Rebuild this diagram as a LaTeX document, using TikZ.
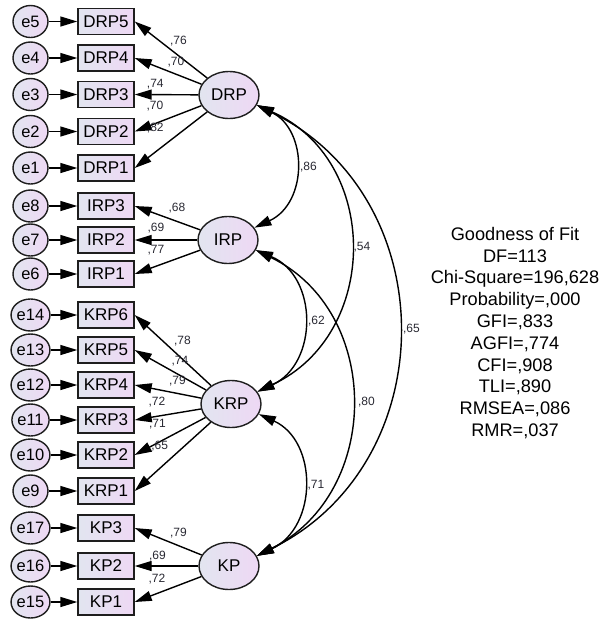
\documentclass[tikz,border=0pt]{standalone}
\usepackage{fontspec}
\setmainfont{Liberation Sans}
\usetikzlibrary{arrows.meta,shapes.geometric}
\definecolor{fillL}{RGB}{226,229,240}
\definecolor{fillR}{RGB}{238,216,244}
\definecolor{edgec}{RGB}{30,30,30}
\definecolor{lblc}{RGB}{40,40,50}
\begin{document}
\begin{tikzpicture}[x=1pt,y=-1pt,
  tip/.style={-{Triangle[length=17pt,width=10pt]}},
  dtip/.style={{Triangle[length=17pt,width=10pt]}-{Triangle[length=17pt,width=10pt]}},
  errc/.style={ellipse, draw=edgec, line width=1.4pt, left color=fillL, right color=fillR,
    minimum width=35pt, minimum height=32pt, inner sep=0pt, font=\fontsize{16.5}{18}\selectfont},
  obs/.style={rectangle, draw=edgec, line width=1.4pt, left color=fillL, right color=fillR,
    minimum width=56pt, minimum height=26pt, inner sep=0pt, font=\fontsize{17}{19}\selectfont},
  lat/.style={ellipse, draw=edgec, line width=1.4pt, left color=fillL, right color=fillR,
    minimum width=60pt, minimum height=47pt, inner sep=0pt, font=\fontsize{17}{19}\selectfont},
  lbl/.style={font=\fontsize{12}{14}\selectfont, inner sep=0pt, text=lblc},
  conn/.style={line width=1.4pt, draw=black},
  gof/.style={align=center, inner sep=0pt, font=\fontsize{18.2}{21.8}\selectfont}
]
\useasboundingbox (0,0) rectangle (601,622);

% latent variables
\node[lat] (DRP) at (229,95) {DRP};
\node[lat] (IRP) at (228,240) {IRP};
\node[lat] (KRP) at (231,404) {KRP};
\node[lat] (KP)  at (229,566) {KP};

% indicators, errors, loadings
\foreach \n/\e/\y/\L in {DRP5/e5/21.5/DRP, DRP4/e4/58/DRP, DRP3/e3/94.5/DRP, DRP2/e2/131.5/DRP, DRP1/e1/168/DRP,
  IRP3/e8/206/IRP, IRP2/e7/240/IRP, IRP1/e6/274/IRP,
  KRP6/e14/315/KRP, KRP5/e13/350/KRP, KRP4/e12/385/KRP, KRP3/e11/420/KRP, KRP2/e10/455/KRP, KRP1/e9/491/KRP,
  KP3/e17/528/KP, KP2/e16/566/KP, KP1/e15/602/KP}{
  \node[errc] (\e) at (30.5,\y) {\e};
  \node[obs] (\n) at (106,\y) {\n};
  \draw[conn,tip] (\e) -- (\n);
  \draw[conn,tip] (\L) -- (\n.east);
}

% loading labels
\node[lbl] (l1) at (178.5,41) {,76};
\node[lbl] (l2) at (176,62.5) {,70};
\node[lbl] (l3) at (155.3,84) {,74};
\node[lbl] (l4) at (155,106) {,70};
\node[lbl] (l5) at (155.3,128) {,82};
\node[lbl] (l6) at (177,208.5) {,68};
\node[lbl] (l7) at (156,228.5) {,69};
\node[lbl] (l8) at (156,250.5) {,77};
\node[lbl] (l9) at (182.5,341) {,78};
\node[lbl] (l10) at (180,361) {,74};
\node[lbl] (l11) at (177.5,381.5) {,79};
\node[lbl] (l12) at (157,402.5) {,72};
\node[lbl] (l13) at (157.5,424) {,71};
\node[lbl] (l14) at (159.7,446) {,65};
\node[lbl] (l15) at (178.5,533) {,79};
\node[lbl] (l16) at (157.5,556) {,69};
\node[lbl] (l17) at (157,579) {,72};

% covariances
\draw[conn,dtip] (DRP.-20) .. controls (308,130) and (308,203) .. (IRP.25);
\draw[conn,dtip] (DRP.-20) .. controls (380.6,160) and (380.6,334) .. (KRP.25);
\draw[conn,dtip] (DRP.-20) .. controls (444.8,197) and (444.8,463) .. (KP.20);
\draw[conn,dtip] (IRP.-20) .. controls (318.4,276.4) and (318.4,363.6) .. (KRP.25);
\draw[conn,dtip] (IRP.-20) .. controls (382.4,311.5) and (382.4,492.5) .. (KP.20);
\draw[conn,dtip] (KRP.-20) .. controls (318,441) and (318,527) .. (KP.20);

\node[lbl] (c1) at (308.5,167.5) {,86};
\node[lbl] (c2) at (362,247.5) {,54};
\node[lbl] (c3) at (316.5,321) {,62};
\node[lbl] (c4) at (411.5,329.5) {,65};
\node[lbl] (c5) at (366.5,402.5) {,80};
\node[lbl] (c6) at (316,485) {,71};

% goodness of fit
\node[gof] (fit) at (515,333) {Goodness of Fit\\DF=113\\Chi-Square=196,628\\Probability=,000\\GFI=,833\\AGFI=,774\\CFI=,908\\TLI=,890\\RMSEA=,086\\RMR=,037};
\end{tikzpicture}
\end{document}
